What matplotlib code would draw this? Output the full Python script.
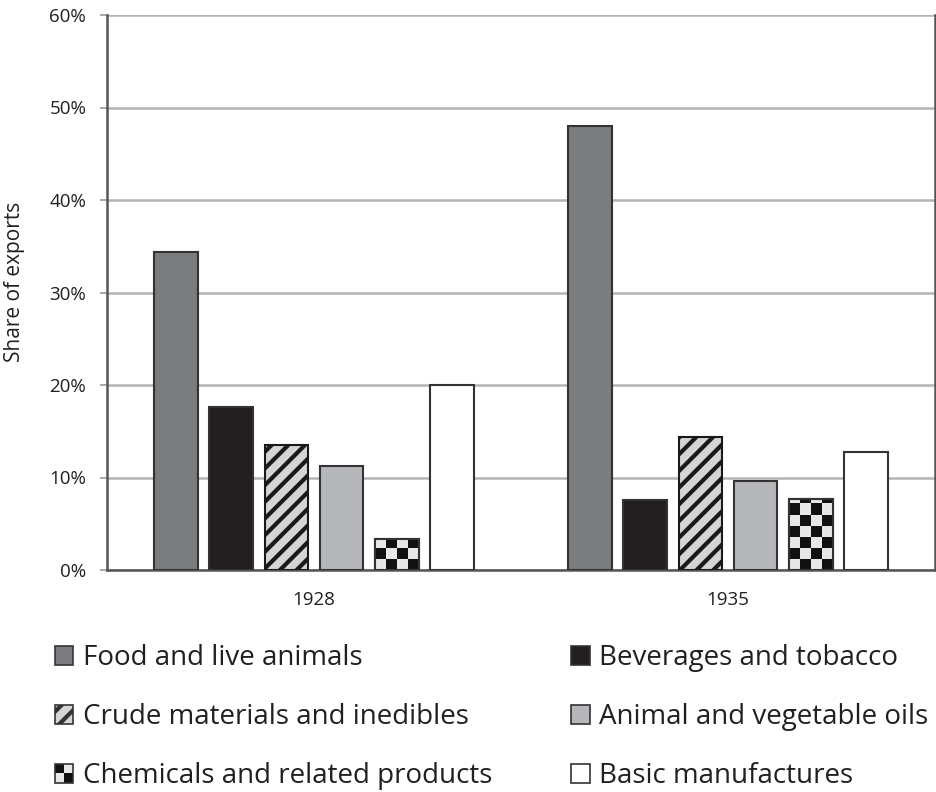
import numpy as np
import matplotlib
matplotlib.use("Agg")
import matplotlib.pyplot as plt
from matplotlib.patches import Rectangle
from matplotlib.legend_handler import HandlerBase
from matplotlib.ticker import PercentFormatter

plt.rcParams['font.family'] = ['Open Sans', 'DejaVu Sans']
plt.rcParams['hatch.linewidth'] = 3.0

years = ['1928', '1935']
categories = ['Food and live animals', 'Beverages and tobacco',
              'Crude materials and inedibles', 'Animal and vegetable oils',
              'Chemicals and related products', 'Basic manufactures']
shares = {
    'Food and live animals': [34.4, 48.0],
    'Beverages and tobacco': [17.6, 7.6],
    'Crude materials and inedibles': [13.5, 14.4],
    'Animal and vegetable oils': [11.2, 9.6],
    'Chemicals and related products': [3.4, 7.7],
    'Basic manufactures': [20.0, 12.8],
}

# look of each series: facecolor, hatch, checker
styles = {
    'Food and live animals': ('#7b7c80', None, False),
    'Beverages and tobacco': ('#231f20', None, False),
    'Crude materials and inedibles': ('#d4d5d7', '//', False),
    'Animal and vegetable oils': ('#b6b7ba', None, False),
    'Chemicals and related products': ('#e6e7e8', None, True),
    'Basic manufactures': ('#ffffff', None, False),
}
edge = '#333333'
txt = '#231f20'

fig = plt.figure(figsize=(9.36, 7.92), dpi=100)
ax = fig.add_axes([107 / 936, 1 - 570 / 792, 828 / 936, 555 / 792])

x = np.arange(len(years))
pitch = 0.133
width = 0.106
offsets = (np.arange(len(categories)) - (len(categories) - 1) / 2) * pitch

cell_x = width / 4
cell_y = 1.2

for i, cat in enumerate(categories):
    fc, hatch, checker = styles[cat]
    bars = ax.bar(x + offsets[i], shares[cat], width, color=fc,
                  edgecolor=edge, linewidth=1.5, hatch=hatch, zorder=3)
    for b in bars:
        if hatch:
            b.set_edgecolor('#1a1a1a')
        if checker:
            x0, y0 = b.get_x(), b.get_y()
            w, h = b.get_width(), b.get_height()
            nx = 4
            ny = int(np.ceil(h / cell_y))
            grid = (np.add.outer(np.arange(ny), np.arange(nx)) % 2)
            xs = x0 + np.arange(nx + 1) * cell_x
            ys = y0 + np.arange(ny + 1) * cell_y
            mesh = ax.pcolormesh(xs, ys, grid, cmap=matplotlib.colors.ListedColormap(['#e6e7e8', '#111111']),
                                 zorder=3.5)
            mesh.set_clip_path(b)
            ax.add_patch(Rectangle((x0, y0), w, h, fill=False, edgecolor=edge,
                                   linewidth=1.5, zorder=4))

ax.set_xlim(-0.5, 1.5)
ax.set_ylim(0, 60)
ax.set_yticks(np.arange(0, 61, 10))
ax.yaxis.set_major_formatter(PercentFormatter(decimals=0))
ax.set_xticks(x)
ax.set_xticklabels(years)
ax.tick_params(axis='x', labelsize=13.5, colors=txt, length=0, pad=15)
ax.tick_params(axis='y', labelsize=13.5, labelcolor=txt, length=5, color='#9a9a9a', width=1.2, pad=10)
ax.yaxis.grid(True, color='#b4b4b4', linewidth=1.8, zorder=0)
ax.set_axisbelow(True)
for s in ax.spines.values():
    s.set_color('#555555')
    s.set_linewidth(1.8)
ax.spines['top'].set_visible(False)
ax.set_ylabel('Share of exports', fontsize=15, color=txt)
ax.yaxis.set_label_coords(-0.099, 0.52)


class CheckerHandler(HandlerBase):
    def create_artists(self, legend, orig_handle, xdescent, ydescent, width, height, fontsize, trans):
        s = height
        x0 = -xdescent + (width - s) / 2
        y0 = -ydescent
        out = []
        half = s / 2
        cols = [['#111111', '#e6e7e8'], ['#e6e7e8', '#111111']]
        for r in range(2):
            for c in range(2):
                out.append(Rectangle((x0 + c * half, y0 + (1 - r) * half), half, half,
                                     facecolor=cols[r][c], edgecolor='none', transform=trans))
        out.append(Rectangle((x0, y0), s, s, fill=False, edgecolor=edge, linewidth=1.2, transform=trans))
        return out


class SquareHandler(HandlerBase):
    def create_artists(self, legend, orig_handle, xdescent, ydescent, width, height, fontsize, trans):
        s = height
        x0 = -xdescent + (width - s) / 2
        p = Rectangle((x0, -ydescent), s, s, facecolor=orig_handle.get_facecolor(),
                      edgecolor=edge, linewidth=1.2, hatch=orig_handle.get_hatch(), transform=trans)
        return [p]


# legend is filled column by column, reference reads row by row
order = [0, 2, 4, 1, 3, 5]
handles = []
labels = []
handler_map = {}
for k in order:
    cat = categories[k]
    fc, hatch, checker = styles[cat]
    h = Rectangle((0, 0), 1, 1, facecolor=fc, hatch=hatch)
    handles.append(h)
    labels.append(cat)
    handler_map[h] = CheckerHandler() if checker else SquareHandler()

fig.legend(handles, labels, handler_map=handler_map, loc='upper left',
           bbox_to_anchor=(55 / 936, 1 - 644 / 792), ncol=2, frameon=False,
           fontsize=20, handlelength=0.65, handleheight=0.65, handletextpad=0.35,
           labelspacing=1.12, columnspacing=2.85, labelcolor=txt,
           borderaxespad=0, borderpad=0)

fig.savefig('out.png', dpi=100)
